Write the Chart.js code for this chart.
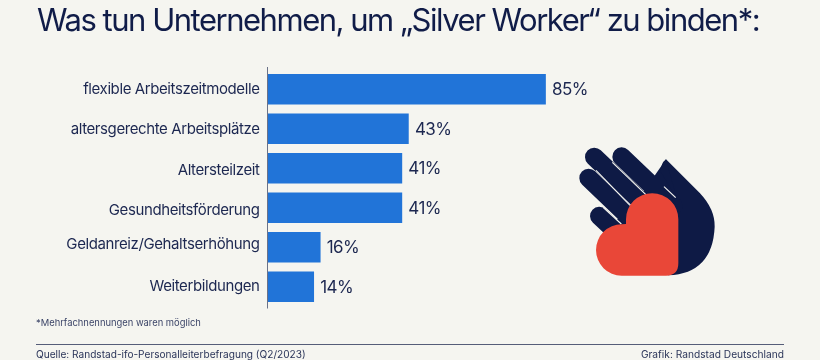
<!DOCTYPE html>
<html lang="de">
<head>
<meta charset="utf-8">
<title>Silver Worker</title>
<script src="https://cdn.jsdelivr.net/npm/chart.js@4/dist/chart.umd.min.js"></script>
<style>
  html, body { margin: 0; padding: 0; background: #f5f5f0; }
  #wrap { position: relative; width: 820px; height: 360px; overflow: hidden; font-family: Inter, sans-serif; }
  #chart { position: absolute; left: 0; top: 0; }
  .txt { position: absolute; white-space: nowrap; color: #1c2750; }
  #title { left: 37px; top: 0px; font-size: 31px; line-height: 40px; color: #101c48; letter-spacing: -1.48px; }
  #note { left: 36px; top: 316px; font-size: 9.4px; line-height: 14px; color: #3c4568; }
  #source { left: 36px; top: 347px; font-size: 10.1px; line-height: 14px; color: #2b3559; }
  #credit { right: 36px; top: 347px; font-size: 10.2px; line-height: 14px; color: #2b3559; }
  #rule { position: absolute; left: 36px; width: 748px; top: 344px; height: 1px; background: #555d78; }
  #hand { position: absolute; left: 540px; top: 130px; }
</style>
</head>
<body>
<div id="wrap">
  <canvas id="chart" width="820" height="360"></canvas>
  <div class="txt" id="title">Was tun Unternehmen, um „Silver Worker“ zu binden*:</div>
  <div class="txt" id="note">*Mehrfachnennungen waren möglich</div>
  <div id="rule"></div>
  <div class="txt" id="source">Quelle: Randstad-ifo-Personalleiterbefragung (Q2/2023)</div>
  <div class="txt" id="credit">Grafik: Randstad Deutschland</div>
  <svg id="hand" width="200" height="170" viewBox="0 0 600 510">
    <path d="M378 88 L480 190 Q525 238 524 290 Q518 430 385 436 L230 400 L200 300 L300 200 Z" fill="#0e1a45"/>
    <path d="M362 125 Q362 100 378 88 L410 205 Z" fill="#0e1a45"/>
    <g stroke="#0e1a45" stroke-width="56" stroke-linecap="round">
      <line x1="163" y1="81" x2="330" y2="240"/>
      <line x1="245" y1="80" x2="400" y2="228"/>
      <line x1="146" y1="144" x2="290" y2="282"/>
      <line x1="178" y1="258" x2="250" y2="325"/>
    </g>
    <g stroke="#f5f5f0" stroke-width="3.5" fill="none">
      <line x1="217" y1="97" x2="320" y2="196"/>
      <line x1="168" y1="121" x2="270" y2="226"/>
      <line x1="190" y1="233" x2="244" y2="282"/>
      <line x1="372" y1="170" x2="407" y2="203"/>
    </g>
    <path d="M258 282 L258 268 A78 78 0 0 1 415 268 L415 400 Q415 437 378 437 L245 437 A77 77 0 0 1 245 283 Z" fill="#e94738"/>
  </svg>
</div>
<script>
const categories = [
  'flexible Arbeitszeitmodelle',
  'altersgerechte Arbeitsplätze',
  'Altersteilzeit',
  'Gesundheitsförderung',
  'Geldanreiz/Gehaltserhöhung',
  'Weiterbildungen'
];
const shares = [85, 43, 41, 41, 16, 14];

// the source labels do not sit quite level with their bars
const labelNudge = [0, 1, 2.5, 2.5, -3, 0];

// category labels, value labels and the axis line, which overshoots the plot a bit
const barExtras = {
  id: 'barExtras',
  afterDatasetsDraw(chart) {
    const ctx = chart.ctx;
    const area = chart.chartArea;
    const yScale = chart.scales.y;
    ctx.save();
    ctx.strokeStyle = '#6b7288';
    ctx.lineWidth = 1;
    ctx.beginPath();
    ctx.moveTo(area.left - 0.5, area.top - 2.5);
    ctx.lineTo(area.left - 0.5, area.bottom + 2);
    ctx.stroke();

    ctx.fillStyle = '#1c2750';
    ctx.textBaseline = 'middle';
    ctx.font = '15px Inter, sans-serif';
    ctx.letterSpacing = '-0.4px';
    ctx.textAlign = 'right';
    yScale.ticks.forEach((tick, i) => {
      ctx.fillText(tick.label, area.left - 8.5, yScale.getPixelForTick(i) + labelNudge[i]);
    });

    ctx.font = '17px Inter, sans-serif';
    ctx.letterSpacing = '-0.6px';
    ctx.textAlign = 'left';
    chart.getDatasetMeta(0).data.forEach((bar, i) => {
      ctx.fillText(shares[i] + '%', bar.x + 6.5, bar.y + 1);
    });
    ctx.restore();
  }
};

new Chart(document.getElementById('chart'), {
  type: 'bar',
  data: {
    labels: categories,
    datasets: [{
      data: shares,
      backgroundColor: '#2174d8',
      barThickness: 30,
      borderWidth: 0
    }]
  },
  options: {
    indexAxis: 'y',
    responsive: false,
    animation: false,
    layout: { padding: { left: 0, top: 69.5, right: 225.5, bottom: 53.5 } },
    plugins: { legend: { display: false }, tooltip: { enabled: false } },
    scales: {
      x: { display: false, min: 0, max: 100 },
      y: {
        afterFit(scale) { scale.width = 268; },
        grid: { display: false },
        border: { display: false },
        ticks: { display: false }
      }
    }
  },
  plugins: [barExtras]
});
</script>
</body>
</html>
